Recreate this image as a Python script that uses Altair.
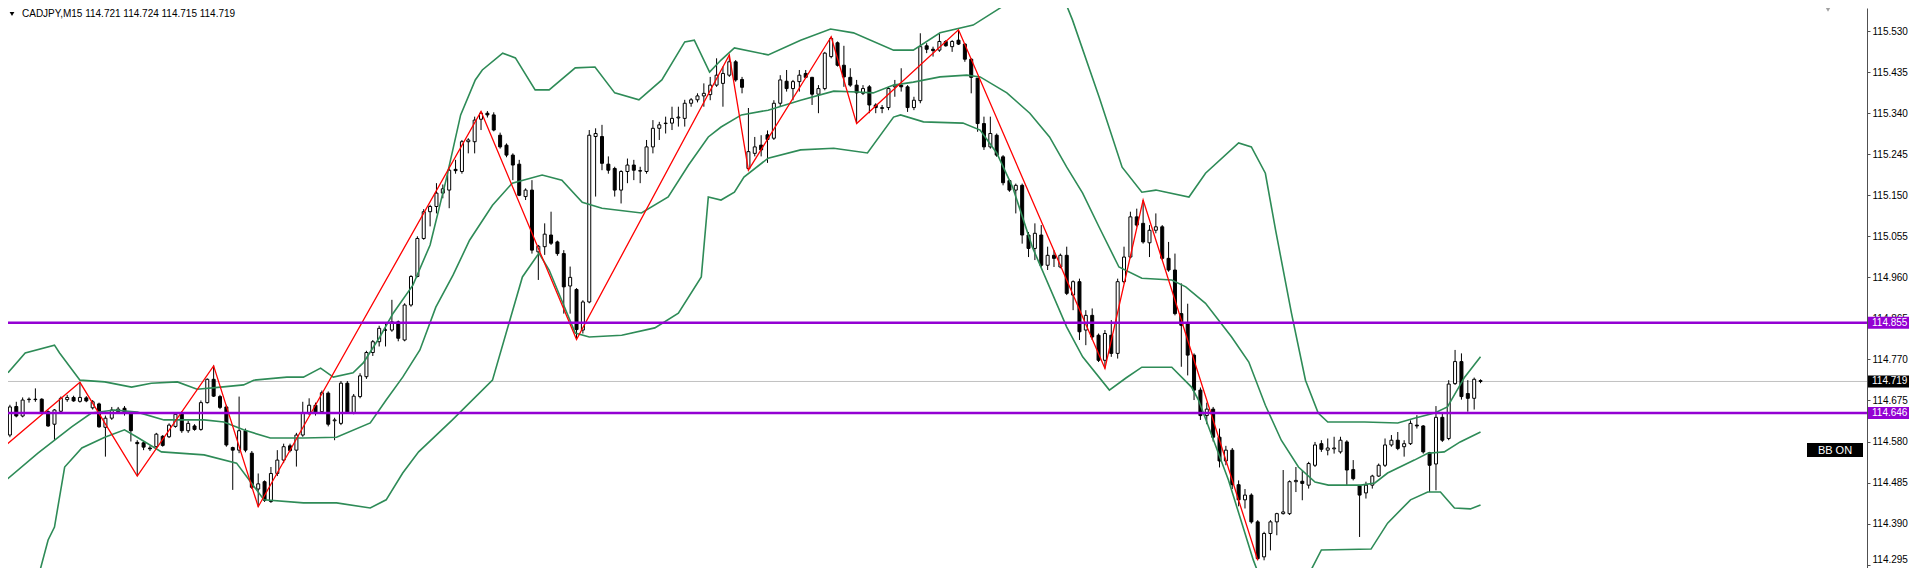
import altair as alt
import pandas as pd

# ---------------- candle data (CADJPY M15) ----------------
OPEN = [
    114.595, 114.661, 114.639, 114.677, 114.678, 114.678, 114.649, 114.620, 114.650, 114.677,
    114.682, 114.673, 114.681, 114.658, 114.667, 114.613, 114.634, 114.649, 114.657, 114.645,
    114.578, 114.577, 114.565, 114.568, 114.592, 114.591, 114.615, 114.645, 114.605, 114.616,
    114.608, 114.670, 114.724, 114.684, 114.660, 114.566, 114.560, 114.605, 114.553, 114.470,
    114.487, 114.441, 114.506, 114.537, 114.570, 114.560, 114.595, 114.645, 114.664, 114.649,
    114.692, 114.628, 114.622, 114.715, 114.647, 114.684, 114.730, 114.786, 114.811, 114.838,
    114.838, 114.857, 114.815, 114.896, 114.962, 115.050, 115.112, 115.124, 115.155, 115.162,
    115.210, 115.205, 115.274, 115.274, 115.326, 115.340, 115.336, 115.289, 115.266, 115.243,
    115.222, 115.147, 115.162, 115.019, 115.031, 115.058, 115.042, 115.015, 114.940, 114.932,
    114.838, 114.903, 115.286, 115.286, 115.222, 115.212, 115.162, 115.205, 115.220, 115.207,
    115.205, 115.262, 115.305, 115.316, 115.317, 115.329, 115.328, 115.363, 115.371, 115.380,
    115.383, 115.405, 115.409, 115.428, 115.459, 115.418, 115.212, 115.247, 115.266, 115.290,
    115.282, 115.363, 115.414, 115.397, 115.413, 115.432, 115.423, 115.384, 115.397, 115.471,
    115.503, 115.451, 115.423, 115.405, 115.386, 115.401, 115.359, 115.351, 115.353, 115.401,
    115.405, 115.401, 115.353, 115.369, 115.496, 115.488, 115.486, 115.506, 115.494, 115.509,
    115.500, 115.465, 115.421, 115.316, 115.262, 115.289, 115.239, 115.184, 115.162, 115.173,
    115.058, 115.027, 115.058, 114.988, 115.011, 114.984, 115.011, 114.919, 114.950, 114.838,
    114.872, 114.826, 114.768, 114.826, 114.784, 114.950, 115.007, 115.100, 115.085, 115.040,
    115.069, 115.077, 115.004, 114.977, 114.876, 114.852, 114.780, 114.699, 114.640, 114.655,
    114.590, 114.535, 114.560, 114.480, 114.445, 114.456, 114.394, 114.313, 114.367, 114.394,
    114.413, 114.413, 114.487, 114.488, 114.479, 114.525, 114.575, 114.560, 114.563, 114.556,
    114.579, 114.515, 114.477, 114.461, 114.479, 114.500, 114.525, 114.572, 114.583, 114.568,
    114.575, 114.618, 114.616, 114.554, 114.528, 114.636, 114.587, 114.714, 114.765, 114.691,
    114.680, 114.721,
]
HIGH = [
    114.665, 114.672, 114.682, 114.682, 114.703, 114.680, 114.652, 114.655, 114.684, 114.688,
    114.686, 114.717, 114.685, 114.676, 114.670, 114.640, 114.660, 114.660, 114.662, 114.650,
    114.583, 114.580, 114.570, 114.600, 114.595, 114.622, 114.648, 114.650, 114.628, 114.620,
    114.675, 114.726, 114.756, 114.688, 114.665, 114.568, 114.684, 114.610, 114.558, 114.506,
    114.490, 114.521, 114.560, 114.575, 114.575, 114.600, 114.672, 114.680, 114.670, 114.698,
    114.696, 114.635, 114.720, 114.720, 114.690, 114.738, 114.790, 114.815, 114.848, 114.853,
    114.908, 114.860, 114.900, 114.965, 115.055, 115.118, 115.128, 115.178, 115.175, 115.212,
    115.232, 115.278, 115.282, 115.332, 115.344, 115.345, 115.342, 115.295, 115.270, 115.247,
    115.232, 115.166, 115.185, 115.035, 115.085, 115.112, 115.045, 115.023, 114.985, 114.935,
    114.907, 115.301, 115.305, 115.313, 115.240, 115.216, 115.208, 115.235, 115.232, 115.216,
    115.278, 115.324, 115.320, 115.332, 115.355, 115.355, 115.371, 115.375, 115.386, 115.409,
    115.424, 115.467, 115.448, 115.475, 115.463, 115.424, 115.352, 115.285, 115.289, 115.300,
    115.370, 115.428, 115.440, 115.417, 115.440, 115.440, 115.424, 115.405, 115.482, 115.517,
    115.506, 115.496, 115.444, 115.417, 115.405, 115.405, 115.363, 115.359, 115.401, 115.417,
    115.444, 115.405, 115.378, 115.525, 115.502, 115.494, 115.525, 115.509, 115.509, 115.533,
    115.502, 115.467, 115.421, 115.332, 115.332, 115.293, 115.243, 115.186, 115.177, 115.177,
    115.065, 115.085, 115.081, 115.031, 115.023, 115.015, 115.031, 114.953, 114.957, 114.884,
    114.888, 114.830, 114.838, 114.861, 114.957, 115.031, 115.112, 115.119, 115.139, 115.081,
    115.108, 115.081, 115.042, 115.015, 114.946, 114.899, 114.784, 114.705, 114.670, 114.660,
    114.610, 114.570, 114.565, 114.490, 114.470, 114.460, 114.398, 114.371, 114.398, 114.415,
    114.514, 114.490, 114.521, 114.514, 114.533, 114.579, 114.583, 114.587, 114.591, 114.591,
    114.583, 114.537, 114.479, 114.487, 114.503, 114.529, 114.587, 114.595, 114.602, 114.583,
    114.629, 114.641, 114.618, 114.556, 114.662, 114.645, 114.722, 114.792, 114.784, 114.722,
    114.728, 114.724,
]
LOW = [
    114.590, 114.636, 114.636, 114.670, 114.672, 114.645, 114.614, 114.583, 114.645, 114.672,
    114.672, 114.670, 114.671, 114.654, 114.612, 114.545, 114.630, 114.645, 114.640, 114.580,
    114.500, 114.560, 114.558, 114.565, 114.568, 114.588, 114.612, 114.600, 114.600, 114.605,
    114.605, 114.668, 114.683, 114.655, 114.568, 114.468, 114.553, 114.555, 114.470, 114.429,
    114.440, 114.438, 114.500, 114.530, 114.555, 114.522, 114.591, 114.641, 114.640, 114.645,
    114.615, 114.583, 114.618, 114.645, 114.643, 114.680, 114.725, 114.778, 114.800, 114.800,
    114.834, 114.812, 114.812, 114.892, 114.960, 115.047, 115.078, 115.108, 115.143, 115.120,
    115.200, 115.200, 115.247, 115.247, 115.301, 115.330, 115.298, 115.258, 115.238, 115.185,
    115.148, 115.139, 115.015, 114.954, 115.012, 115.035, 115.010, 114.876, 114.876, 114.816,
    114.830, 114.900, 115.147, 115.208, 115.200, 115.147, 115.131, 115.178, 115.185, 115.178,
    115.200, 115.247, 115.278, 115.293, 115.301, 115.309, 115.309, 115.355, 115.365, 115.355,
    115.370, 115.401, 115.355, 115.424, 115.413, 115.386, 115.208, 115.240, 115.240, 115.225,
    115.278, 115.355, 115.390, 115.370, 115.390, 115.421, 115.359, 115.340, 115.393, 115.467,
    115.448, 115.401, 115.401, 115.316, 115.382, 115.340, 115.340, 115.340, 115.347, 115.378,
    115.390, 115.343, 115.347, 115.363, 115.479, 115.471, 115.482, 115.494, 115.482, 115.498,
    115.459, 115.386, 115.297, 115.255, 115.258, 115.239, 115.173, 115.158, 115.108, 115.038,
    115.007, 115.000, 114.984, 114.977, 114.984, 114.981, 114.919, 114.884, 114.815, 114.803,
    114.815, 114.764, 114.749, 114.776, 114.772, 114.946, 115.004, 115.077, 115.038, 115.007,
    115.062, 115.000, 114.973, 114.872, 114.753, 114.733, 114.676, 114.630, 114.620, 114.580,
    114.520, 114.525, 114.470, 114.430, 114.425, 114.390, 114.305, 114.305, 114.328, 114.363,
    114.411, 114.410, 114.463, 114.444, 114.471, 114.521, 114.556, 114.548, 114.552, 114.552,
    114.479, 114.490, 114.359, 114.448, 114.471, 114.498, 114.521, 114.568, 114.560, 114.545,
    114.572, 114.610, 114.552, 114.463, 114.467, 114.579, 114.583, 114.711, 114.677, 114.649,
    114.654, 114.715,
]
CLOSE = [
    114.660, 114.639, 114.676, 114.678, 114.677, 114.647, 114.616, 114.653, 114.680, 114.682,
    114.674, 114.682, 114.674, 114.672, 114.614, 114.634, 114.653, 114.655, 114.647, 114.605,
    114.575, 114.567, 114.563, 114.597, 114.571, 114.618, 114.643, 114.605, 114.622, 114.608,
    114.670, 114.724, 114.685, 114.659, 114.572, 114.560, 114.605, 114.560, 114.474, 114.482,
    114.444, 114.506, 114.537, 114.568, 114.559, 114.595, 114.647, 114.664, 114.645, 114.693,
    114.620, 114.630, 114.715, 114.647, 114.685, 114.732, 114.786, 114.811, 114.842, 114.838,
    114.857, 114.819, 114.896, 114.962, 115.050, 115.112, 115.124, 115.155, 115.165, 115.208,
    115.207, 115.274, 115.278, 115.324, 115.340, 115.336, 115.301, 115.262, 115.243, 115.220,
    115.150, 115.162, 115.023, 115.032, 115.060, 115.039, 115.015, 114.938, 114.960, 114.839,
    114.903, 115.289, 115.293, 115.224, 115.208, 115.162, 115.205, 115.220, 115.208, 115.206,
    115.262, 115.305, 115.313, 115.317, 115.328, 115.331, 115.363, 115.371, 115.380, 115.386,
    115.405, 115.428, 115.432, 115.459, 115.417, 115.400, 115.251, 115.262, 115.255, 115.279,
    115.363, 115.417, 115.397, 115.413, 115.428, 115.423, 115.384, 115.397, 115.479, 115.513,
    115.451, 115.424, 115.405, 115.387, 115.397, 115.359, 115.353, 115.353, 115.397, 115.405,
    115.401, 115.353, 115.370, 115.494, 115.488, 115.485, 115.506, 115.496, 115.506, 115.500,
    115.465, 115.423, 115.316, 115.262, 115.293, 115.243, 115.179, 115.162, 115.173, 115.058,
    115.027, 115.062, 114.988, 115.011, 115.004, 115.011, 114.923, 114.950, 114.834, 114.872,
    114.822, 114.768, 114.830, 114.784, 114.950, 115.007, 115.100, 115.081, 115.042, 115.069,
    115.077, 115.004, 114.977, 114.876, 114.849, 114.780, 114.699, 114.640, 114.655, 114.590,
    114.535, 114.560, 114.480, 114.445, 114.456, 114.394, 114.309, 114.367, 114.394, 114.413,
    114.417, 114.487, 114.490, 114.483, 114.529, 114.572, 114.562, 114.565, 114.565, 114.583,
    114.514, 114.494, 114.456, 114.479, 114.500, 114.525, 114.572, 114.583, 114.564, 114.575,
    114.622, 114.616, 114.556, 114.525, 114.636, 114.583, 114.713, 114.765, 114.684, 114.680,
    114.724, 114.719,
]

# ---------------- Bollinger band vertices (bar index, price) ----------------
UPPER_I = [-0.3, 2.4, 7.0, 7.8, 11.0, 14.9, 19.1, 22.2, 26.3, 29.4, 33.1, 36.7, 38.3, 43.5, 46.1,
           48.8, 50.8, 53.9, 55.5, 58.1, 60.2, 63.3, 66.0, 68.5, 70.8, 73.1, 74.2, 77.4, 79.4,
           82.5, 84.7, 88.8, 91.9, 95.0, 98.8, 102.4, 106.0, 107.5, 109.9, 111.7, 113.8, 119.1,
           124.2, 128.9, 132.5, 138.8, 141.9, 146.1, 151.3, 155.5, 161.0, 165.5, 166.9, 171.1,
           174.7, 177.8, 180.0, 185.2, 187.8, 193.0, 195.0, 197.2, 198.8, 201.3, 203.5, 205.5,
           207.0, 212.8, 218.0, 220.6, 223.8, 225.8, 228.5, 231.0]
UPPER_P = [114.739, 114.785, 114.803, 114.785, 114.722, 114.718, 114.706, 114.715, 114.718, 114.701,
           114.706, 114.711, 114.722, 114.729, 114.729, 114.750, 114.729, 114.739, 114.762, 114.822,
           114.877, 114.942, 115.035, 115.185, 115.336, 115.417, 115.440, 115.479, 115.468, 115.394,
           115.394, 115.445, 115.447, 115.387, 115.371, 115.417, 115.505, 115.509, 115.435, 115.463,
           115.491, 115.475, 115.509, 115.535, 115.526, 115.486, 115.486, 115.526, 115.544, 115.583,
           115.648, 115.607, 115.556, 115.377, 115.215, 115.157, 115.162, 115.146, 115.201, 115.271,
           115.262, 115.201, 115.070, 114.877, 114.722, 114.646, 114.625, 114.625, 114.623, 114.634,
           114.646, 114.660, 114.729, 114.776]
MID_I = [-0.8, 4.4, 9.7, 12.8, 16.4, 20.0, 24.2, 30.5, 33.6, 36.7, 40.9, 46.1, 51.3, 56.6, 59.1,
         61.7, 64.4, 66.9, 69.6, 72.2, 75.8, 78.9, 83.6, 86.7, 89.9, 93.0, 99.2, 103.4, 106.6,
         109.7, 111.7, 114.9, 119.1, 124.2, 129.4, 133.1, 135.6, 138.8, 141.9, 146.1, 150.3,
         152.4, 156.6, 160.2, 163.3, 166.0, 168.5, 171.1, 174.2, 177.8, 182.5, 184.7, 187.8,
         191.9, 194.6, 197.2, 199.7, 202.4, 205.0, 207.1, 212.2, 214.4, 216.4, 220.6, 222.7,
         225.3, 227.8, 231.0]
MID_P = [114.488, 114.553, 114.614, 114.646, 114.653, 114.648, 114.630, 114.630, 114.625, 114.607,
         114.588, 114.588, 114.590, 114.623, 114.676, 114.729, 114.792, 114.891, 114.965, 115.046,
         115.127, 115.178, 115.197, 115.185, 115.134, 115.120, 115.109, 115.146, 115.220, 115.285,
         115.308, 115.336, 115.347, 115.370, 115.391, 115.389, 115.387, 115.405, 115.412, 115.424,
         115.428, 115.424, 115.387, 115.340, 115.285, 115.215, 115.155, 115.076, 114.984, 114.958,
         114.954, 114.938, 114.900, 114.822, 114.764, 114.664, 114.583, 114.521, 114.486, 114.479,
         114.479, 114.484, 114.507, 114.537, 114.553, 114.556, 114.579, 114.602]
LOWER_I = [3.9, 6.0, 7.0, 8.6, 11.3, 14.9, 18.0, 20.0, 23.8, 30.5, 35.6, 39.9, 46.1, 51.3, 56.6,
           59.1, 61.7, 64.2, 69.5, 75.8, 80.5, 83.1, 84.7, 88.8, 91.0, 96.1, 101.3, 105.0, 108.6,
           109.7, 111.7, 113.8, 115.3, 119.1, 124.2, 129.4, 134.7, 138.8, 139.9, 143.5, 149.7,
           152.4, 155.0, 157.5, 160.6, 166.0, 168.5, 172.7, 175.3, 177.8, 182.5, 185.6, 186.7,
           191.4, 195.3, 197.7, 201.6, 203.9, 206.0, 213.8, 216.4, 220.0, 222.7, 224.7, 226.9,
           229.4, 231.0]
LOWER_P = [114.236, 114.352, 114.382, 114.521, 114.565, 114.590, 114.607, 114.590, 114.556, 114.549,
           114.530, 114.445, 114.438, 114.438, 114.426, 114.445, 114.507, 114.556, 114.630, 114.722,
           114.961, 115.016, 114.977, 114.831, 114.822, 114.826, 114.843, 114.877, 114.961, 115.146,
           115.139, 115.157, 115.192, 115.236, 115.255, 115.259, 115.248, 115.331, 115.336, 115.320,
           115.317, 115.301, 115.248, 115.169, 115.030, 114.845, 114.776, 114.699, 114.727, 114.752,
           114.752, 114.706, 114.676, 114.491, 114.306, 114.213, 114.213, 114.269, 114.329, 114.331,
           114.391, 114.445, 114.463, 114.463, 114.426, 114.424, 114.433]

# ---------------- ZigZag vertices ----------------
ZZ_I = [-1, 11, 20, 32, 39, 74, 89, 113, 116, 129, 133, 149, 172, 178, 196]
ZZ_P = [114.567, 114.717, 114.500, 114.755, 114.429, 115.344, 114.816, 115.475, 115.208,
        115.517, 115.316, 115.533, 114.749, 115.139, 114.305]

HLINES = [114.855, 114.646]
HLINE_LABELS = ["114.855", "114.646"]
LAST_PRICE = [114.719]
LAST_LABEL = ["114.719"]
TICKS = [114.295, 114.390, 114.485, 114.580, 114.675, 114.770, 114.865, 114.960,
         115.055, 115.150, 115.245, 115.340, 115.435, 115.530]
TITLE = ["CADJPY,M15  114.721 114.724 114.715 114.719"]
BADGE = ["BB ON"]

# ---------------- layout ----------------
W, H = 1901, 560
STEP = 6.4          # px per bar
X0 = -3.1           # plot-x of bar 0
PPU = 432.0         # px per price unit
TOP = 115.5835      # price at top of plot
AXIS_X = 1859
xs = alt.Scale(domain=[-X0 / STEP, (W - X0) / STEP], nice=False, zero=False)
ys = alt.Scale(domain=[TOP - H / PPU, TOP], nice=False, zero=False)
X = alt.X("idx:Q", scale=xs, axis=None)

FONT = "Liberation Sans"

candles = pd.DataFrame({"idx": list(range(len(CLOSE))), "open": OPEN, "high": HIGH,
                        "low": LOW, "close": CLOSE})
candles["body"] = ["white" if c >= o else "black" for o, c in zip(OPEN, CLOSE)]

bands = pd.concat([
    pd.DataFrame({"idx": UPPER_I, "price": UPPER_P, "band": "upper"}),
    pd.DataFrame({"idx": MID_I, "price": MID_P, "band": "middle"}),
    pd.DataFrame({"idx": LOWER_I, "price": LOWER_P, "band": "lower"}),
], ignore_index=True)
zz = pd.DataFrame({"idx": ZZ_I, "price": ZZ_P})
hl = pd.DataFrame({"price": HLINES, "label": HLINE_LABELS})
last = pd.DataFrame({"price": LAST_PRICE, "label": LAST_LABEL})

yaxis = alt.Axis(orient="right", values=TICKS, format=".3f", offset=AXIS_X - W, tickSize=3,
                 labelPadding=2, labelFont=FONT, labelFontSize=10, labelColor="black",
                 domainColor="#505050", tickColor="#505050", grid=False, labelOverlap=False,
                 labelFlush=6, title="", zindex=0)


def Y(field):
    return alt.Y(field, scale=ys, axis=yaxis, title="")


wick = alt.Chart(candles).mark_rule(color="black", strokeWidth=1, clip=True).encode(
    x=X, y=Y("low:Q"), y2="high:Q")
body = alt.Chart(candles).mark_bar(size=3, stroke="black", strokeWidth=1, clip=True).encode(
    x=X, y=Y("open:Q"), y2="close:Q", fill=alt.Fill("body:N", scale=None))

lastline = alt.Chart(last).mark_rule(color="#c0c0c0", strokeWidth=1).encode(
    x=alt.value(0), x2=alt.value(AXIS_X), y=Y("price:Q"))

bb = alt.Chart(bands).mark_line(color="#2E8B57", strokeWidth=1.6, clip=True).encode(
    x=X, y=Y("price:Q"), detail="band:N", order="idx:Q")
zig = alt.Chart(zz).mark_line(color="#ff0000", strokeWidth=1.3, clip=True).encode(
    x=X, y=Y("price:Q"), order="idx:Q")

hlines = alt.Chart(hl).mark_rule(color="#9400D3", strokeWidth=2.5).encode(
    x=alt.value(0), x2=alt.value(AXIS_X), y=Y("price:Q"))

BOX = "M-1,-0.27H1V0.27H-1Z"
hlbox = alt.Chart(hl).mark_point(shape=BOX, filled=True, size=2025, opacity=1,
                                 color="#9400D3", strokeWidth=0).encode(
    x=alt.value(AXIS_X + 23.5), y=Y("price:Q"))
lastbox = alt.Chart(last).mark_point(shape=BOX, filled=True, size=2025, opacity=1,
                                     color="black", strokeWidth=0).encode(
    x=alt.value(AXIS_X + 23.5), y=Y("price:Q"))
hltext = alt.Chart(hl).mark_text(align="left", baseline="middle", font=FONT, fontSize=10,
                                 color="white").encode(
    x=alt.value(AXIS_X + 5), y=Y("price:Q"), text="label:N")
lasttext = alt.Chart(last).mark_text(align="left", baseline="middle", font=FONT, fontSize=10,
                                     color="white").encode(
    x=alt.value(AXIS_X + 5), y=Y("price:Q"), text="label:N")

badge_df = pd.DataFrame({"t": BADGE})
badge_box = alt.Chart(badge_df).mark_point(shape="M-1,-0.25H1V0.25H-1Z", filled=True, size=3136,
                                           opacity=1, color="black", strokeWidth=0).encode(
    x=alt.value(1827), y=alt.value(442))
badge_txt = alt.Chart(badge_df).mark_text(align="center", baseline="middle", font=FONT,
                                          fontSize=11, color="white").encode(
    x=alt.value(1827), y=alt.value(442.5), text="t:N")

title_df = pd.DataFrame({"t": TITLE})
title_txt = alt.Chart(title_df).mark_text(align="left", baseline="middle", font=FONT,
                                          fontSize=10, color="black").encode(
    x=alt.value(14), y=alt.value(6), text="t:N")
tri = alt.Chart(title_df).mark_point(shape="triangle-down", filled=True, size=22, opacity=1,
                                     color="black", strokeWidth=0).encode(
    x=alt.value(4), y=alt.value(6))
shift_tri = alt.Chart(title_df).mark_point(shape="triangle-down", filled=True, size=40,
                                           opacity=1, color="#a0a0a0", strokeWidth=0).encode(
    x=alt.value(1820), y=alt.value(1))

chart = alt.layer(
    lastline, wick, body, bb, zig, hlines, hlbox, lastbox, hltext, lasttext,
    badge_box, badge_txt, title_txt, tri, shift_tri,
).properties(
    width=W, height=H, autosize=alt.AutoSizeParams(type="none"), padding=0,
    background="white",
).configure_view(strokeWidth=0)

chart.save("out.html", embed_options={"renderer": "svg", "actions": False})
